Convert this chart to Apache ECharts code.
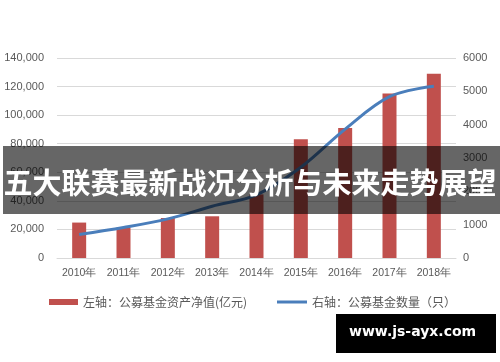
<!DOCTYPE html>
<html>
<head>
<meta charset="utf-8">
<script src="https://cdn.jsdelivr.net/npm/echarts@6/dist/echarts.min.js"></script>
<style>
html,body{margin:0;padding:0;background:#fff;}
#c{width:500px;height:362px;}
</style>
</head>
<body>
<div id="c"></div>
<script>
const categories = ['2010年','2011年','2012年','2013年','2014年','2015年','2016年','2017年','2018年'];
const netAssets = [24800, 21300, 28000, 29200, 44500, 83200, 91000, 115200, 129000];
const fundCount = [704, 914, 1173, 1552, 1897, 2722, 3867, 4841, 5153];
const barName = '左轴：公募基金资产净值(亿元)';
const lineName = '右轴：公募基金数量（只）';
const bannerText = '五大联赛最新战况分析与未来走势展望';
const watermark = 'www.js-ayx.com';

const chart = echarts.init(document.getElementById('c'), null, {renderer:'canvas'});
const labelColor = '#595959';
const baseFont = '"Liberation Sans", Arial, sans-serif';
chart.setOption({
  animation: false,
  backgroundColor: '#fff',
  grid: {left: 57, right: 44, top: 58, bottom: 104, containLabel: false},
  legend: [{
    data: [barName], left: 44, top: 291, itemWidth: 29, itemHeight: 6, icon: 'rect',
    textStyle: {color: labelColor, fontSize: 12, fontFamily: '"Noto Sans CJK SC", sans-serif'}, itemGap: 4
  },{
    data: [lineName], left: 272, top: 291, itemWidth: 30, itemHeight: 3, icon: 'rect',
    textStyle: {color: labelColor, fontSize: 12, fontFamily: '"Noto Sans CJK SC", sans-serif'}, itemGap: 4
  }],
  xAxis: {
    type: 'category', data: categories,
    axisLine: {lineStyle: {color: '#d9d9d9'}},
    axisTick: {show: false},
    axisLabel: {color: labelColor, fontSize: 10.5, fontFamily: baseFont, margin: 10, interval: 0, hideOverlap: false}
  },
  yAxis: [{
    type: 'value', min: 0, max: 140000, interval: 20000,
    axisLine: {show: false}, axisTick: {show: false},
    axisLabel: {color: labelColor, fontSize: 11, fontFamily: baseFont, margin: 13,
      formatter: v => v.toLocaleString('en-US')},
    splitLine: {lineStyle: {color: '#d9d9d9'}}
  },{
    type: 'value', min: 0, max: 6000, interval: 1000, position: 'right',
    axisLine: {show: false}, axisTick: {show: false},
    axisLabel: {color: labelColor, fontSize: 11, fontFamily: baseFont, margin: 7,
      formatter: v => String(v)},
    splitLine: {show: false}
  }],
  series: [{
    name: barName, type: 'bar', data: netAssets, yAxisIndex: 0,
    barWidth: 14, itemStyle: {color: '#c0504d'}
  },{
    name: lineName, type: 'line', data: fundCount, yAxisIndex: 1,
    smooth: 0.35, showSymbol: false, symbol: 'none',
    lineStyle: {color: '#4a7ebb', width: 3}, itemStyle: {color: '#4a7ebb'}
  }],
  graphic: [{
    type: 'rect', left: 3, top: 146, z: 100,
    shape: {width: 497, height: 68},
    style: {fill: 'rgba(0,0,0,0.6)'}
  },{
    type: 'text', left: 'center', top: 168, z: 101,
    style: {text: bannerText, fill: '#fff', font: 'bold 29px "Noto Sans CJK SC", sans-serif'}
  },{
    type: 'rect', left: 336, top: 314, z: 100,
    shape: {width: 160, height: 39},
    style: {fill: '#000'}
  },{
    type: 'text', left: 349, top: 325, z: 101,
    style: {text: watermark, fill: '#fff', font: 'bold 14px "DejaVu Sans", sans-serif'}
  }]
});
</script>
</body>
</html>
